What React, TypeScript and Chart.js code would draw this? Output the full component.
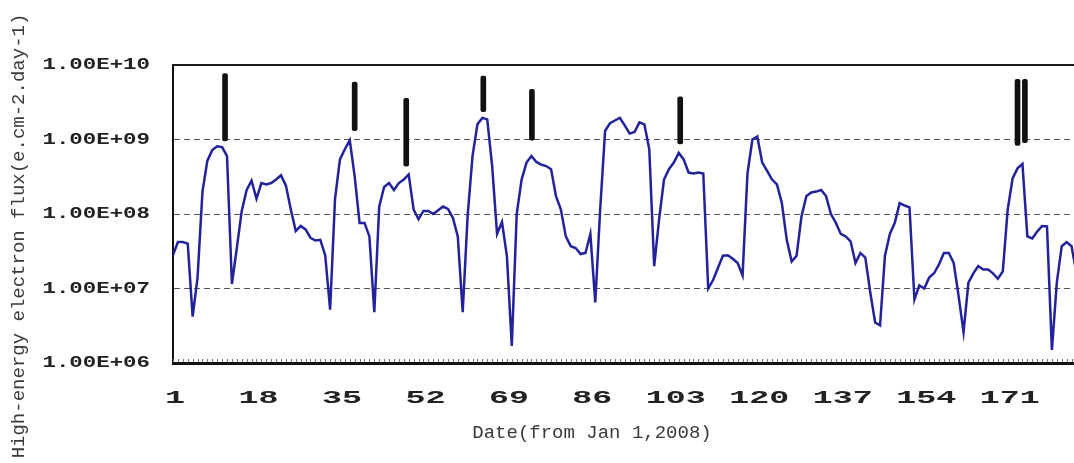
import { useEffect, useRef } from 'react';
import { Chart, registerables } from 'chart.js';

Chart.register(...registerables);

// Daily high-energy electron flux, day 1 .. 185 (from Jan 1, 2008)
const flux: number[] = [
  2.8e7, 4.2e7, 4.2e7, 4.0e7, 4.2e6, 1.4e7, 2.0e8, 5.2e8, 7.2e8, 8.1e8,
  7.9e8, 6.0e8, 1.15e7, 3.5e7, 1.1e8, 2.1e8, 2.8e8, 1.6e8, 2.6e8, 2.5e8,
  2.6e8, 2.9e8, 3.3e8, 2.4e8, 1.15e8, 5.9e7, 6.9e7, 6.2e7, 4.8e7, 4.4e7,
  4.5e7, 2.8e7, 5.2e6, 1.6e8, 5.4e8, 7.4e8, 9.8e8, 3.2e8, 7.6e7, 7.6e7,
  5.0e7, 4.8e6, 1.26e8, 2.3e8, 2.6e8, 2.1e8, 2.6e8, 2.9e8, 3.4e8, 1.15e8,
  8.5e7, 1.1e8, 1.1e8, 1.0e8, 1.12e8, 1.26e8, 1.17e8, 8.9e7, 5.0e7, 4.8e6,
  9.3e7, 6.0e8, 1.6e9, 1.95e9, 1.86e9, 4.4e8, 5.4e7, 7.8e7, 2.75e7, 1.7e6,
  1.0e8, 2.9e8, 4.9e8, 6.0e8, 5.0e8, 4.6e8, 4.4e8, 4.0e8, 1.74e8, 1.15e8,
  5.0e7, 3.7e7, 3.5e7, 2.9e7, 3.0e7, 5.4e7, 6.5e6, 1.15e8, 1.3e9, 1.66e9,
  1.8e9, 1.95e9, 1.55e9, 1.2e9, 1.26e9, 1.7e9, 1.6e9, 7.4e8, 2.0e7, 8.5e7,
  2.9e8, 4.0e8, 4.9e8, 6.6e8, 5.4e8, 3.6e8, 3.5e8, 3.6e8, 3.5e8, 1.0e7,
  1.3e7, 1.9e7, 2.75e7, 2.8e7, 2.5e7, 2.2e7, 1.5e7, 3.5e8, 1.0e9, 1.1e9,
  4.9e8, 3.8e8, 2.9e8, 2.5e8, 1.4e8, 4.5e7, 2.3e7, 2.75e7, 9.3e7, 1.74e8,
  1.95e8, 2.0e8, 2.1e8, 1.74e8, 1.0e8, 7.6e7, 5.4e7, 5.0e7, 4.3e7, 2.2e7,
  3.0e7, 2.6e7, 8.9e6, 3.5e6, 3.2e6, 2.75e7, 5.4e7, 7.6e7, 1.4e8, 1.3e8,
  1.23e8, 7.1e6, 1.1e7, 1.0e7, 1.4e7, 1.6e7, 2.1e7, 3.0e7, 3.0e7, 2.2e7,
  7.9e6, 2.6e6, 1.2e7, 1.6e7, 2.0e7, 1.8e7, 1.8e7, 1.6e7, 1.35e7, 1.7e7,
  1.15e8, 3.0e8, 4.1e8, 4.7e8, 5.0e7, 4.7e7, 5.8e7, 6.9e7, 6.8e7, 1.5e6,
  1.2e7, 3.7e7, 4.2e7, 3.7e7, 1.6e7,
];

// Event markers (black vertical bars)
const eventDays = [11.6, 38, 48.5, 64.2, 74.1, 104.3, 173, 174.5];
const eventLow = [9.6e8, 1.31e9, 4.4e8, 2.36e9, 9.8e8, 8.7e8, 8.3e8, 9.1e8];
const eventHigh = [7.7e9, 5.9e9, 3.57e9, 7.1e9, 4.7e9, 3.75e9, 6.4e9, 6.4e9];

const xTickValues = [1, 18, 35, 52, 69, 86, 103, 120, 137, 154, 171];
const xTickLabels = ['1', '18', '35', '52', '69', '86', '103', '120', '137', '154', '171'];
const yTickValues = [1e6, 1e7, 1e8, 1e9, 1e10];
const yTickLabels = ['1.00E+06', '1.00E+07', '1.00E+08', '1.00E+09', '1.00E+10'];
const yGridValues = [1e7, 1e8, 1e9];

const xTitle = 'Date(from Jan 1,2008)';
const yTitle = 'High-energy electron flux(e.cm-2.day-1)';

function stretchedText(
  ctx: CanvasRenderingContext2D,
  text: string,
  x: number,
  y: number,
  sx: number,
  align: CanvasTextAlign,
) {
  ctx.save();
  ctx.translate(x, y);
  ctx.scale(sx, 1);
  ctx.textAlign = align;
  ctx.textBaseline = 'middle';
  ctx.fillText(text, 0, 0);
  ctx.restore();
}

const decorPlugin = {
  id: 'decor',
  beforeDatasetsDraw(chart: any) {
    const { ctx, chartArea: a, scales } = chart;
    const xs = scales.x;
    ctx.save();
    // top frame line
    ctx.fillStyle = '#1a1a1a';
    ctx.fillRect(a.left - 1, a.top - 1, a.right - a.left + 1, 2);
    // small daily ticks along the bottom axis
    ctx.strokeStyle = '#777';
    ctx.lineWidth = 1;
    ctx.beginPath();
    for (let d = Math.ceil(xs.min); d <= xs.max; d++) {
      const px = Math.round(xs.getPixelForValue(d)) + 0.5;
      ctx.moveTo(px, a.bottom - 4);
      ctx.lineTo(px, a.bottom - 1);
    }
    ctx.stroke();
    ctx.restore();
  },
  afterDraw(chart: any) {
    const { ctx, scales } = chart;
    const xs = scales.x;
    const ys = scales.y;
    ctx.save();
    ctx.fillStyle = '#222';
    ctx.font = 'bold 16px "Liberation Mono"';
    yTickValues.forEach((v, i) => {
      stretchedText(ctx, yTickLabels[i], 150, ys.getPixelForValue(v), 1.4, 'right');
    });
    ctx.font = 'bold 18px "Liberation Mono"';
    xTickValues.forEach((v, i) => {
      stretchedText(ctx, xTickLabels[i], xs.getPixelForValue(v) + 2, 398, 1.85, 'center');
    });
    // axis titles
    ctx.fillStyle = '#3a3a3a';
    ctx.font = '19px "Liberation Mono"';
    ctx.textAlign = 'center';
    ctx.textBaseline = 'middle';
    ctx.fillText(xTitle, 592, 433);
    ctx.save();
    ctx.translate(19, 236);
    ctx.rotate(-Math.PI / 2);
    ctx.fillText(yTitle, 0, 0);
    ctx.restore();
    ctx.restore();
  },
};

export default function App() {
  const ref = useRef<HTMLCanvasElement | null>(null);

  useEffect(() => {
    if (!ref.current) return;
    const chart = new Chart(ref.current, {
      type: 'line',
      data: {
        datasets: [
          {
            type: 'line',
            data: flux.map((v, i) => ({ x: i + 1, y: v })),
            borderColor: '#22229c',
            borderWidth: 2.5,
            pointRadius: 0,
            tension: 0,
            fill: false,
          } as any,
          {
            type: 'bar',
            data: eventDays.map((d, i) => ({ x: d, y: [eventLow[i], eventHigh[i]] })),
            backgroundColor: '#111',
            barThickness: 5,
            grouped: false,
            borderSkipped: false,
            borderRadius: 2,
          } as any,
        ],
      },
      options: {
        responsive: false,
        animation: false,
        events: [],
        layout: { padding: { top: 65, left: 0, right: 0, bottom: 0 } },
        plugins: { legend: { display: false }, tooltip: { enabled: false } },
        scales: {
          x: {
            type: 'linear',
            min: 1,
            max: 184.5,
            offset: false,
            afterBuildTicks: (s: any) => {
              s.ticks = xTickValues.map((v) => ({ value: v }));
            },
            afterFit: (s: any) => {
              s.height = 100;
            },
            ticks: { display: false },
            grid: { display: false, drawTicks: false },
            border: { display: true, color: '#111', width: 3 },
          },
          y: {
            type: 'logarithmic',
            min: 1e6,
            max: 1e10,
            afterBuildTicks: (s: any) => {
              s.ticks = yTickValues.map((v) => ({ value: v }));
            },
            afterFit: (s: any) => {
              s.width = 173;
            },
            ticks: { display: false },
            grid: {
              drawTicks: false,
              lineWidth: 1,
              color: (c: any) =>
                c.tick && yGridValues.includes(c.tick.value) ? '#555' : 'rgba(0,0,0,0)',
            },
            border: { display: true, color: '#111', width: 2, dash: [6, 4] },
          },
        } as any,
      },
      plugins: [decorPlugin],
    });
    return () => chart.destroy();
  }, []);

  return (
    <div style={{ position: 'fixed', left: 0, top: 0, width: 1074, height: 463, background: '#fff' }}>
      <canvas ref={ref} width={1074} height={463} style={{ display: 'block', width: 1074, height: 463 }} />
    </div>
  );
}
